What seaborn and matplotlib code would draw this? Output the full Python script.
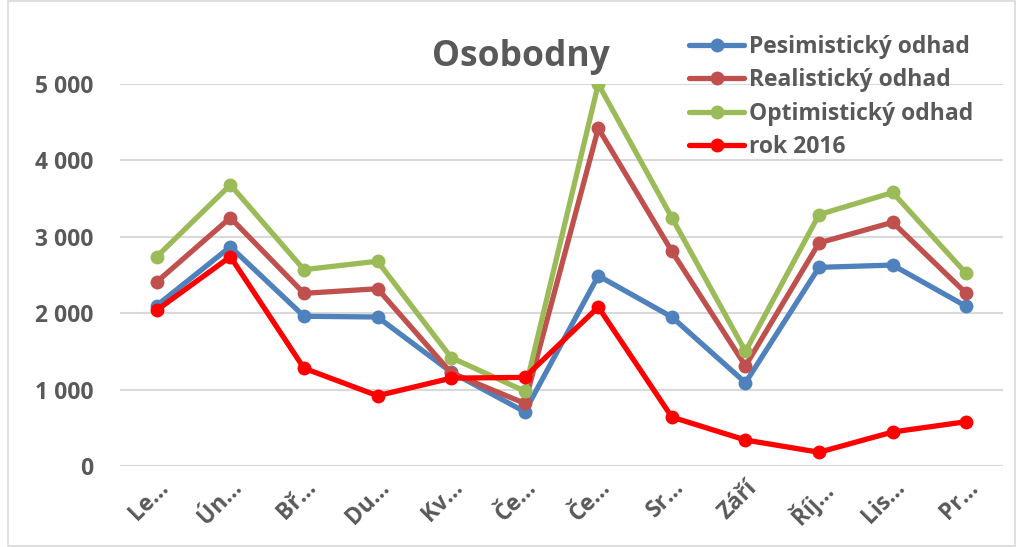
import matplotlib
matplotlib.use("Agg")
import matplotlib.pyplot as plt
import seaborn as sns
import pandas as pd
from matplotlib.ticker import FuncFormatter, FixedLocator
from matplotlib.patches import Rectangle
from matplotlib.lines import Line2D

months = ["Le…", "Ún…", "Bř…", "Du…", "Kv…", "Če…", "Če…", "Sr…", "Září", "Říj…", "Lis…", "Pr…"]
series_names = ["Pesimistický odhad", "Realistický odhad", "Optimistický odhad", "rok 2016"]
pesimisticky = [2100, 2870, 1960, 1950, 1230, 710, 2490, 1950, 1090, 2600, 2630, 2090]
realisticky = [2410, 3250, 2260, 2320, 1220, 820, 4420, 2810, 1310, 2920, 3190, 2260]
optimisticky = [2740, 3680, 2570, 2680, 1420, 980, 5000, 3250, 1500, 3290, 3580, 2520]
rok2016 = [2040, 2740, 1280, 920, 1150, 1160, 2080, 640, 340, 180, 445, 580]
colors = ["#4F81BD", "#C0504D", "#9BBB59", "#FF0000"]

rows = []
for name, vals in zip(series_names, [pesimisticky, realisticky, optimisticky, rok2016]):
    for i, v in enumerate(vals):
        rows.append({"pos": i, "value": v, "series": name})
df = pd.DataFrame(rows)

sns.set_theme(style="white")
plt.rcParams['font.family'] = ['Open Sans', 'DejaVu Sans']

fig = plt.figure(figsize=(10.23, 5.47), dpi=100)
ax = fig.add_axes([120/1023, 1-466/547, (1003-120)/1023, (466-84)/547])

sns.lineplot(data=df, x="pos", y="value", hue="series", hue_order=series_names,
             palette=colors, marker="o", markersize=10, markeredgewidth=0,
             linewidth=3.8, ax=ax, legend=False, sort=False)

ax.set_xlim(-0.5, 11.5)
ax.set_ylim(0, 5000)
ax.yaxis.set_major_locator(FixedLocator([0, 1000, 2000, 3000, 4000, 5000]))
ax.yaxis.set_major_formatter(FuncFormatter(lambda v, p: f"{int(v):,}".replace(",", " ")))
ax.set_xticks(range(len(months)))
ax.set_xticklabels(months, rotation=45, ha="right", rotation_mode="anchor")
ax.tick_params(axis="y", length=0, pad=19, labelsize=16.5, labelcolor="#595959")
ax.tick_params(axis="x", length=0, pad=7, labelsize=16.5, labelcolor="#595959")
for lbl in ax.get_xticklabels() + ax.get_yticklabels():
    lbl.set_fontweight("bold")
ax.grid(axis="y", color="#D9D9D9", linewidth=1.5)
ax.set_axisbelow(True)
for s in ax.spines.values():
    s.set_visible(False)
ax.set_xlabel("")
ax.set_ylabel("")

fig.text(521/1023, 1-57/547, "Osobodny", ha="center", va="center",
         fontsize=25.5, fontweight="bold", color="#595959")

handles = [Line2D([0], [0], color=c, linewidth=3.8, marker="o", markersize=10, markeredgewidth=0)
           for c in colors]
leg = fig.legend(handles, series_names, loc="upper left", bbox_to_anchor=(689/1023, 1-35/547),
                 frameon=False, prop={"weight": "bold", "size": 16.5}, labelspacing=0.41,
                 handlelength=2.4, handletextpad=0.2, borderaxespad=0, borderpad=0)
for t in leg.get_texts():
    t.set_color("#595959")

fig.patches.append(Rectangle((8/1023, 0.002), 1 - 16/1023, 0.996, transform=fig.transFigure,
                             fill=False, edgecolor="#D9D9D9", linewidth=1.2))

fig.savefig("out.png", dpi=100)
